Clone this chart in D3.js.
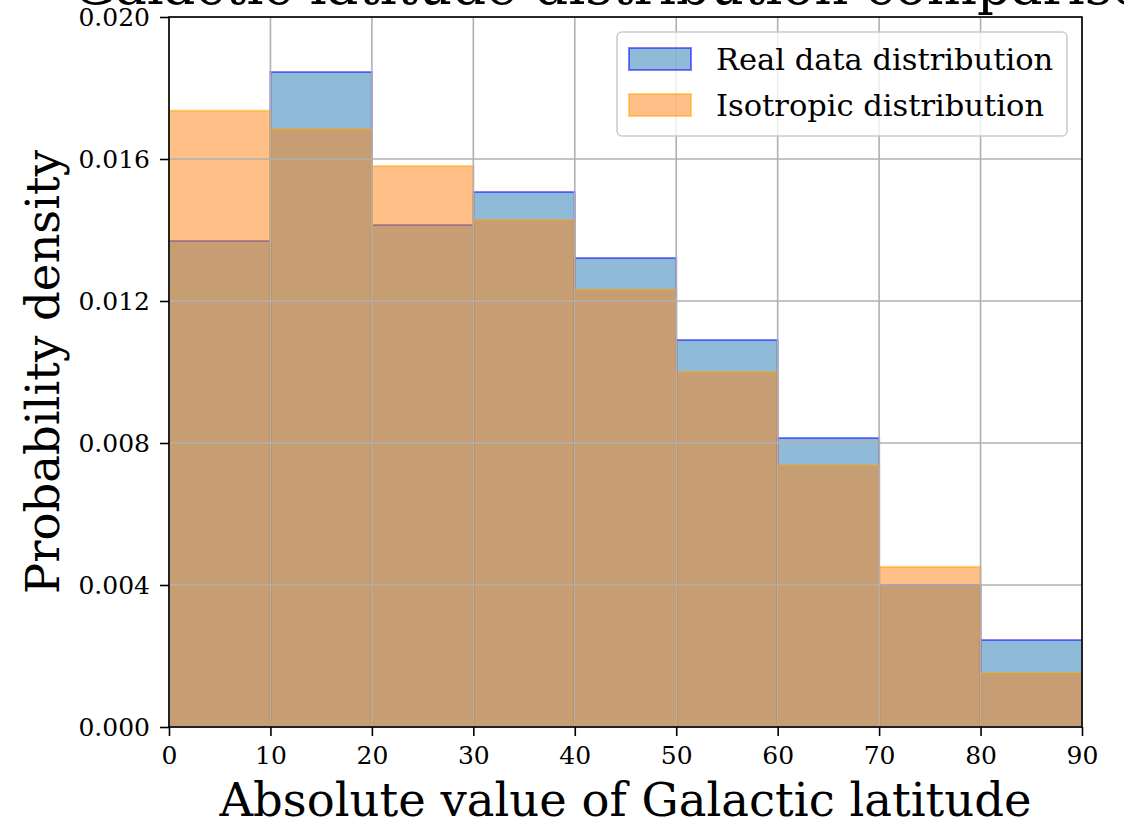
<!DOCTYPE html>
<html>
<head>
<meta charset="utf-8">
<script src="https://cdn.jsdelivr.net/npm/d3@7"></script>
<style>
  html, body { margin: 0; padding: 0; background: #fff; overflow: hidden; }
  svg { display: block; font-family: "DejaVu Serif", serif; }
</style>
</head>
<body>
<svg id="chart" width="1124" height="825"></svg>
<script>
// bins of |b| in degrees
const binEdges = [0, 10, 20, 30, 40, 50, 60, 70, 80, 90];
// density per bin
const realDensity = [0.01369, 0.01845, 0.01414, 0.01507, 0.01321, 0.01090, 0.00814, 0.00400, 0.00245];
const isoDensity = [0.01736, 0.01684, 0.01580, 0.01428, 0.01232, 0.01000, 0.00737, 0.00451, 0.00152];
const xTicks = [0, 10, 20, 30, 40, 50, 60, 70, 80, 90];
const yTicks = [0, 0.004, 0.008, 0.012, 0.016, 0.020];
const seriesNames = ['Real data distribution', 'Isotropic distribution'];

const svg = d3.select('#chart');
const W = 1124, H = 825;
const margin = {left: 169, right: W - 1082, top: 17, bottom: H - 727};

const x = d3.scaleLinear().domain([0, 90]).range([margin.left, W - margin.right]);
const y = d3.scaleLinear().domain([0, 0.02]).range([H - margin.bottom, margin.top]);

// title, clipped at the top like the original
svg.append('text')
  .attr('x', (x(0) + x(90)) / 2)
  .attr('y', 4)
  .attr('text-anchor', 'middle')
  .style('font-size', '53px')
  .text('Galactic latitude distribution comparison');

const bins = d => binEdges.slice(0, -1).map((e, i) => ({x0: e, x1: binEdges[i + 1], v: d[i]}));

function drawHist (data, fill, stroke) {
  svg.append('g')
    .selectAll('rect')
    .data(bins(data))
    .enter().append('rect')
    .attr('x', d => x(d.x0))
    .attr('width', d => x(d.x1) - x(d.x0))
    .attr('y', d => y(d.v))
    .attr('height', d => y(0) - y(d.v))
    .attr('fill', fill)
    .attr('fill-opacity', 0.5)
    .attr('stroke', stroke)
    .attr('stroke-opacity', 0.5)
    .attr('stroke-width', 2);
}

drawHist(realDensity, '#1f77b4', '#0000ff');
drawHist(isoDensity, '#ff7f0e', '#ffa500');

// grid on top of the bars
const grid = svg.append('g').attr('stroke', '#b0b0b0').attr('stroke-width', 1.6);
grid.selectAll('line.gx')
  .data(xTicks)
  .enter().append('line')
  .attr('x1', d => x(d)).attr('x2', d => x(d))
  .attr('y1', y(0)).attr('y2', y(0.02));
grid.selectAll('line.gy')
  .data(yTicks)
  .enter().append('line')
  .attr('y1', d => y(d)).attr('y2', d => y(d))
  .attr('x1', x(0)).attr('x2', x(90));

// axes
const xAxis = svg.append('g')
  .attr('transform', `translate(0,${y(0)})`)
  .call(d3.axisBottom(x).tickValues(xTicks).tickSize(9).tickPadding(10).tickFormat(d3.format('d')));
const yAxis = svg.append('g')
  .attr('transform', `translate(${x(0)},0)`)
  .call(d3.axisLeft(y).tickValues(yTicks).tickSize(9).tickPadding(10).tickFormat(d3.format('.3f')));

[xAxis, yAxis].forEach(g => {
  g.select('.domain').remove();
  g.selectAll('line').attr('stroke', '#000').attr('stroke-width', 1.6);
  g.selectAll('text').style('font-size', '25px').style('font-family', '"DejaVu Serif", serif').attr('fill', '#000');
});

// frame
svg.append('rect')
  .attr('x', x(0)).attr('y', y(0.02))
  .attr('width', x(90) - x(0)).attr('height', y(0) - y(0.02))
  .attr('fill', 'none').attr('stroke', '#000').attr('stroke-width', 1.6);

// axis labels
svg.append('text')
  .attr('x', (x(0) + x(90)) / 2)
  .attr('y', 816)
  .attr('text-anchor', 'middle')
  .style('font-size', '46.5px')
  .text('Absolute value of Galactic latitude');

svg.append('text')
  .attr('transform', `translate(59,${(y(0) + y(0.02)) / 2}) rotate(-90)`)
  .attr('text-anchor', 'middle')
  .style('font-size', '46.5px')
  .text('Probability density');

// legend
const lg = svg.append('g').attr('transform', 'translate(617,32)');
lg.append('rect')
  .attr('width', 450).attr('height', 104)
  .attr('rx', 5)
  .attr('fill', '#fff').attr('fill-opacity', 0.8)
  .attr('stroke', '#cccccc').attr('stroke-width', 1.6);
const swatch = [['#1f77b4', '#0000ff'], ['#ff7f0e', '#ffa500']];
const item = lg.selectAll('g.item')
  .data(seriesNames)
  .enter().append('g')
  .attr('transform', (d, i) => `translate(12,${16 + i * 46})`);
item.append('rect')
  .attr('width', 62).attr('height', 22)
  .attr('fill', (d, i) => swatch[i][0]).attr('fill-opacity', 0.5)
  .attr('stroke', (d, i) => swatch[i][1]).attr('stroke-opacity', 0.5)
  .attr('stroke-width', 2);
item.append('text')
  .attr('x', 87).attr('y', 22)
  .style('font-size', '30.5px')
  .text(d => d);
</script>
</body>
</html>
